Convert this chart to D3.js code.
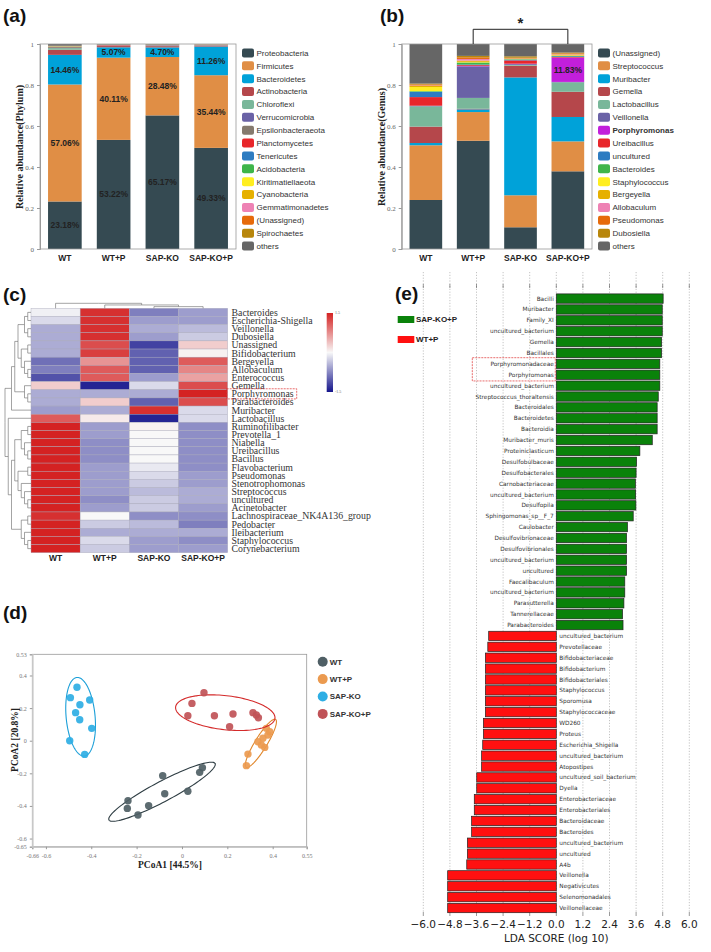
<!DOCTYPE html>
<html>
<head>
<meta charset="utf-8">
<script src="https://cdn.jsdelivr.net/npm/d3@7"></script>
<style>
  body { margin: 0; background: #fff; }
  svg { display: block; }
</style>
</head>
<body>
<svg id="fig" width="711" height="952"></svg>
<script>
// ---------------- data ----------------
var groups = ["WT", "WT+P", "SAP-KO", "SAP-KO+P"];

// (a) phylum composition
var phylumNames = ["Proteobacteria", "Firmicutes", "Bacteroidetes", "Actinobacteria", "Chloroflexi",
  "Verrucomicrobia", "Epsilonbacteraeota", "Planctomycetes", "Tenericutes", "Acidobacteria",
  "Kiritimatiellaeota", "Cyanobacteria", "Gemmatimonadetes", "(Unassigned)", "Spirochaetes", "others"];
var phylumWT   = [0.2318, 0.5706, 0.1446, 0.025, 0.008, 0.001, 0.004, 0.001, 0.001, 0.001, 0.0005, 0.001, 0.0005, 0.001, 0.0005, 0.0085];
var phylumWTP  = [0.5322, 0.4011, 0.0507, 0.006, 0.001, 0.001, 0.001, 0.002, 0.001, 0.001, 0, 0.0005, 0, 0.0005, 0, 0.0019];
var phylumKO   = [0.6517, 0.2848, 0.0470, 0.006, 0.002, 0.001, 0.001, 0.001, 0.001, 0.001, 0, 0.0005, 0, 0.001, 0, 0.0020];
var phylumKOP  = [0.4933, 0.3544, 0.1400, 0.004, 0.001, 0.001, 0.001, 0.001, 0.001, 0.0005, 0, 0.0005, 0, 0.001, 0, 0.0002];
var proteoLabels = ["23.18%", "53.22%", "65.17%", "49.33%"];
var firmLabels   = ["57.06%", "40.11%", "28.48%", "35.44%"];
var bactLabels   = ["14.46%", "5.07%", "4.70%", "11.26%"];

// (b) genus composition
var genusNames = ["(Unassigned)", "Streptococcus", "Muribacter", "Gemella", "Lactobacillus", "Veillonella",
  "Porphyromonas", "Ureibacillus", "uncultured", "Bacteroides", "Staphylococcus", "Bergeyella",
  "Allobaculum", "Pseudomonas", "Dubosiella", "others"];
var genusWT  = [0.239, 0.267, 0.011, 0.080, 0.099, 0.003, 0, 0.042, 0.026, 0.003, 0.020, 0.006, 0.002, 0.005, 0.004, 0.193];
var genusWTP = [0.528, 0.140, 0.013, 0.003, 0.053, 0.154, 0.002, 0.004, 0.003, 0.010, 0.003, 0.006, 0.008, 0.008, 0.007, 0.058];
var genusKO  = [0.106, 0.156, 0.575, 0.057, 0.004, 0.004, 0.002, 0.016, 0.004, 0.002, 0.001, 0.002, 0.001, 0.003, 0.007, 0.060];
var genusKOP = [0.379, 0.146, 0.119, 0.123, 0.046, 0.002, 0.1183, 0.003, 0.004, 0.002, 0.002, 0.004, 0.002, 0.004, 0.004, 0.0417];
var porphyLabels = ["", "", "", "11.83%"];

var paletteA = ["#354a52", "#e08e45", "#00a2d9", "#b5474b", "#79b79a", "#6a62a6", "#857a6e", "#e8262a",
  "#2d7cc1", "#3fb54a", "#ffee20", "#e6b000", "#ee82b4", "#e66a0a", "#b8860b", "#666666"];
var paletteB = ["#354a52", "#e08e45", "#00a2d9", "#b5474b", "#79b79a", "#6a62a6", "#c21fdb", "#e8262a",
  "#2d7cc1", "#3fb54a", "#ffee20", "#e6b000", "#ee82b4", "#e66a0a", "#b8860b", "#666666"];
var stackTicks = [0, 0.2, 0.4, 0.6, 0.8, 1];

// (c) heatmap (row z-scores)
var heatRows = ["Bacteroides", "Escherichia-Shigella", "Veillonella", "Dubosiella", "Unassigned", "Bifidobacterium",
  "Bergeyella", "Allobaculum", "Enterococcus", "Gemella", "Porphyromonas", "Parabacteroides", "Muribacter",
  "Lactobacillus", "Ruminofilibacter", "Prevotella_1", "Niabella", "Ureibacillus", "Bacillus", "Flavobacterium",
  "Pseudomonas", "Stenotrophomonas", "Streptococcus", "uncultured", "Acinetobacter",
  "Lachnospiraceae_NK4A136_group", "Pedobacter", "Ileibacterium", "Staphylococcus", "Corynebacterium"];
var heatWT  = [-0.05, -0.2, -0.5, -0.5, -0.5, -0.5, -0.9, -0.8, -1.1, 0.3, -0.5, -0.5, -0.6, 1.1, 1.5, 1.5, 1.5, 1.5, 1.5, 1.5, 1.5, 1.5, 1.5, 1.5, 1.5, 1.4, 1.5, 1.5, 1.5, 1.5];
var heatWTP = [1.4, 1.4, 1.4, 1.4, 1.2, 1.3, 0.7, 1.1, 1.1, -1.4, -0.5, 0.3, -0.5, 0.1, -0.6, -0.6, -0.7, -0.7, -0.7, -0.6, -0.6, -0.6, -0.6, -0.7, -0.6, 0.0, -0.3, -0.5, -0.2, -0.3];
var heatKO  = [-0.8, -0.6, -0.5, -0.6, -1.2, -1.0, -1.0, -1.0, -0.6, -0.2, -0.5, -1.0, 1.4, -1.4, 0.05, 0.0, 0.0, 0.0, 0.0, -0.1, -0.2, -0.3, -0.4, -0.3, -0.3, -0.7, -0.4, -0.5, -0.6, -0.6];
var heatKOP = [-0.6, -0.6, -0.4, -0.3, 0.3, 0.05, 1.1, 0.8, 0.6, 1.2, 1.5, 1.2, -0.2, -0.2, -0.7, -0.7, -0.7, -0.7, -0.7, -0.7, -0.6, -0.6, -0.5, -0.5, -0.6, -0.7, -0.8, -0.5, -0.7, -0.6];
var rowTree = [
  [
    [
      [[["Bacteroides", "Escherichia-Shigella"], ["Veillonella", "Dubosiella"]],
       [["Unassigned", "Bifidobacterium"], ["Bergeyella", ["Allobaculum", "Enterococcus"]]]],
      ["Gemella", ["Porphyromonas", "Parabacteroides"]]
    ],
    "Muribacter"
  ],
  ["Lactobacillus",
    [[[["Ruminofilibacter", "Prevotella_1"], ["Niabella", ["Ureibacillus", "Bacillus"]]],
      [["Flavobacterium", "Pseudomonas"], ["Stenotrophomonas", ["Streptococcus", ["uncultured", "Acinetobacter"]]]]],
     [["Lachnospiraceae_NK4A136_group", "Pedobacter"], ["Ileibacterium", ["Staphylococcus", "Corynebacterium"]]]]
  ]
];
var colTree = ["WT", ["WT+P", ["SAP-KO", "SAP-KO+P"]]];

// (d) PCoA
var pcoaWT  = [[-0.238, -0.368], [-0.241, -0.415], [-0.194, -0.456], [-0.147, -0.399], [-0.085, -0.215], [-0.076, -0.325], [0.026, -0.31], [0.078, -0.194], [0.09, -0.166]];
var pcoaWTP = [[0.372, 0.076], [0.387, 0.055], [0.379, 0.035], [0.357, 0.015], [0.335, -0.006], [0.35, -0.026], [0.365, -0.041], [0.291, -0.082], [0.284, -0.153]];
var pcoaKO  = [[-0.463, 0.328], [-0.492, 0.264], [-0.407, 0.25], [-0.45, 0.221], [-0.469, 0.172], [-0.451, 0.129], [-0.398, 0.076], [-0.495, 0.0], [-0.429, -0.084]];
var pcoaKOP = [[0.097, 0.294], [0.044, 0.229], [0.026, 0.153], [0.143, 0.153], [0.225, 0.164], [0.313, 0.172], [0.328, 0.158], [0.337, 0.141], [0.21, 0.086]];
// ellipse: centre and two semi-axis vectors, in data units
var ellWT  = { c: [-0.088, -0.313], a: [0.234, 0.173], b: [0.0207, -0.0542] };
var ellWTP = { c: [0.348, -0.016], a: [0.0648, 0.147], b: [0.0226, -0.019] };
var ellKO  = { c: [-0.447, 0.147], a: [-0.0163, 0.241], b: [0.0635, 0.0083] };
var ellKOP = { c: [0.191, 0.172], a: [0.219, -0.035], b: [-0.0086, -0.1037] };
var pcoaXTicks = [-0.66, -0.6, -0.4, -0.2, 0, 0.2, 0.4, 0.55];
var pcoaYTicks = [0.53, 0.4, 0.2, 0, -0.2, -0.4, -0.6, -0.65];

// (e) LEfSe LDA scores
var ldaNames = ["Bacilli", "Muribacter", "Family_XI", "uncultured_bacterium", "Gemella", "Bacillales",
  "Porphyromonadaceae", "Porphyromonas", "uncultured_bacterium", "Streptococcus_thoraltensis", "Bacteroidales",
  "Bacteroidetes", "Bacteroidia", "Muribacter_muris", "Proteiniclasticum", "Desulfobulbaceae", "Desulfobacterales",
  "Carnobacteriaceae", "uncultured_bacterium", "Desulfopila", "Sphingomonas_sp__F_7", "Caulobacter",
  "Desulfovibrionaceae", "Desulfovibrionales", "uncultured_bacterium", "uncultured", "Faecalibaculum",
  "uncultured_bacterium", "Parasutterella", "Tannerellaceae", "Parabacteroides",
  "uncultured_bacterium", "Prevotellaceae", "Bifidobacteriaceae", "Bifidobacterium", "Bifidobacteriales",
  "Staphylococcus", "Sporomusa", "Staphylococcaceae", "WD260", "Proteus", "Escherichia_Shigella",
  "uncultured_bacterium", "Atopostipes", "uncultured_soil_bacterium", "Dyella", "Enterobacteriaceae",
  "Enterobacteriales", "Bacteroidaceae", "Bacteroides", "uncultured_bacterium", "uncultured", "A4b",
  "Veillonella", "Negativicutes", "Selenomonadales", "Veillonellaceae"];
var ldaScores = [4.82, 4.78, 4.78, 4.78, 4.75, 4.75, 4.67, 4.67, 4.67, 4.6, 4.55, 4.55, 4.55, 4.33, 3.77,
  3.62, 3.6, 3.57, 3.58, 3.59, 3.47, 3.21, 3.17, 3.17, 3.17, 3.17, 3.09, 3.09, 3.05, 2.99, 3.01,
  -3.05, -3.09, -3.2, -3.2, -3.2, -3.2, -3.2, -3.2, -3.29, -3.29, -3.32, -3.37, -3.37, -3.59, -3.59,
  -3.7, -3.7, -3.82, -3.82, -4.01, -4.01, -4.04, -4.9, -4.9, -4.9, -4.9];
var ldaTicks = [-6, -4.8, -3.6, -2.4, -1.2, 0, 1.2, 2.4, 3.6, 4.8, 6];
var ldaHighlight = [6, 7];

// ---------------- drawing ----------------
var SANS = "'Liberation Sans', Arial, sans-serif";
var SERIF = "'Liberation Serif', 'Times New Roman', serif";
var DJ = "'DejaVu Sans', sans-serif";

var svg = d3.select("#fig");
svg.append("rect").attr("width", 711).attr("height", 952).attr("fill", "#fff");

function panelLabel(x, y, t) {
  svg.append("text").attr("x", x).attr("y", y).text(t)
    .style("font-family", SANS).style("font-weight", "bold").style("font-size", "19px").attr("fill", "#111");
}

// stacked bar panels (a) and (b)
function stackPanel(opt) {
  var g = svg.append("g");
  var x = d3.scaleBand().domain(groups).range([opt.x0, opt.x1]).paddingInner(0.31).paddingOuter(0.165);
  var y = d3.scaleLinear().domain([0, 1]).range([249, 44]);
  var rows = groups.map(function (grp, i) {
    var o = { group: grp };
    opt.names.forEach(function (n, j) { o[n] = opt.values[i][j]; });
    return o;
  });
  var series = d3.stack().keys(opt.names)(rows);

  g.selectAll("g.layer").data(series).enter().append("g")
    .attr("fill", function (d, i) { return opt.colors[i]; })
    .selectAll("rect").data(function (d) { return d; }).enter().append("rect")
    .attr("x", function (d) { return x(d.data.group); })
    .attr("width", x.bandwidth())
    .attr("y", function (d) { return y(d[1]); })
    .attr("height", function (d) { return Math.max(0, y(d[0]) - y(d[1])); });

  // frame
  g.append("rect").attr("x", opt.x0).attr("y", 44).attr("width", opt.x1 - opt.x0).attr("height", 205)
    .attr("fill", "none").attr("stroke", "#9a9a9a").attr("stroke-width", 0.8);

  var ax = g.append("g").attr("transform", "translate(" + opt.x0 + ",0)")
    .call(d3.axisLeft(y).tickValues(stackTicks).tickFormat(function (d) { return String(d); }).tickSize(3));
  ax.select(".domain").attr("stroke", "#9a9a9a");
  ax.selectAll(".tick line").attr("stroke", "#9a9a9a");
  ax.selectAll("text").style("font-family", SERIF).style("font-size", "7px").attr("fill", "#666");

  g.selectAll("text.grp").data(groups).enter().append("text")
    .attr("x", function (d) { return x(d) + x.bandwidth() / 2; }).attr("y", 261)
    .attr("text-anchor", "middle").text(function (d) { return d; })
    .style("font-family", SANS).style("font-weight", "bold").style("font-size", "8.5px").attr("fill", "#222");

  g.append("text").attr("transform", "translate(" + (opt.x0 - 17) + ",147) rotate(-90)")
    .attr("text-anchor", "middle").text(opt.yLabel)
    .style("font-family", SERIF).style("font-weight", "bold").style("font-size", "10px").attr("fill", "#222");

  // segment labels
  opt.labels.forEach(function (lab) {
    var s = series[lab.layer];
    s.forEach(function (d, i) {
      if (!lab.text[i]) return;
      g.append("text").attr("x", x(d.data.group) + x.bandwidth() / 2).attr("y", y((d[0] + d[1]) / 2))
        .attr("dy", "0.35em").attr("text-anchor", "middle").text(lab.text[i])
        .style("font-family", SANS).style("font-weight", "bold").style("font-size", "8.5px").attr("fill", "#222");
    });
  });

  // legend
  var lg = g.selectAll("g.leg").data(opt.names).enter().append("g")
    .attr("transform", function (d, i) { return "translate(" + opt.legendX + "," + (53 + i * 12.87) + ")"; });
  lg.append("rect").attr("x", 0).attr("y", -4.5).attr("width", 12).attr("height", 9).attr("rx", 2)
    .attr("fill", function (d, i) { return opt.colors[i]; });
  lg.append("text").attr("x", 14.5).attr("dy", "0.35em").text(function (d) { return d; })
    .style("font-family", SANS).style("font-size", "8px")
    .style("font-weight", function (d) { return d === opt.boldName ? "bold" : "normal"; })
    .attr("fill", "#333");
  return x;
}

panelLabel(3, 22, "(a)");
stackPanel({
  x0: 40, x1: 236, names: phylumNames, colors: paletteA,
  values: [phylumWT, phylumWTP, phylumKO, phylumKOP],
  yLabel: "Relative abundance(Phylum)", legendX: 242,
  labels: [{ layer: 0, text: proteoLabels }, { layer: 1, text: firmLabels }, { layer: 2, text: bactLabels }]
});

panelLabel(380, 22, "(b)");
var xB = stackPanel({
  x0: 401.7, x1: 592, names: genusNames, colors: paletteB,
  values: [genusWT, genusWTP, genusKO, genusKOP],
  yLabel: "Relative abundance(Genus)", legendX: 598, boldName: "Porphyromonas",
  labels: [{ layer: 6, text: porphyLabels }]
});
// significance bracket
(function () {
  var xa = xB("WT+P") + xB.bandwidth() / 2, xb = xB("SAP-KO+P") + xB.bandwidth() / 2;
  svg.append("path").attr("d", "M" + xa + ",44V29.3H" + xb + "V44")
    .attr("fill", "none").attr("stroke", "#222").attr("stroke-width", 1);
  svg.append("text").attr("x", (xa + xb) / 2).attr("y", 28).attr("text-anchor", "middle").text("*")
    .style("font-family", SANS).style("font-weight", "bold").style("font-size", "15px").attr("fill", "#222");
})();

// (c) heatmap
panelLabel(3, 301, "(c)");
(function () {
  var g = svg.append("g");
  var cx = d3.scaleBand().domain(groups).range([31, 227.7]);
  var ry = d3.scaleBand().domain(heatRows).range([308.3, 552.7]);
  var color = d3.scaleLinear().domain([-1.5, 0, 1.5]).range(["#15158c", "#f8f8f8", "#d42222"]).clamp(true);
  var cols = [heatWT, heatWTP, heatKO, heatKOP];
  var cells = [];
  cols.forEach(function (vals, j) {
    vals.forEach(function (v, i) { cells.push({ col: groups[j], row: heatRows[i], v: v }); });
  });
  g.selectAll("rect.cell").data(cells).enter().append("rect")
    .attr("x", function (d) { return cx(d.col); }).attr("y", function (d) { return ry(d.row); })
    .attr("width", cx.bandwidth()).attr("height", ry.bandwidth())
    .attr("fill", function (d) { return color(d.v); })
    .attr("stroke", "#a8a8b8").attr("stroke-width", 0.4);

  g.selectAll("text.row").data(heatRows).enter().append("text")
    .attr("x", 231.5).attr("y", function (d) { return ry(d) + ry.bandwidth() / 2; }).attr("dy", "0.35em")
    .text(function (d) { return d; })
    .style("font-family", SERIF).style("font-size", "9.8px").attr("fill", "#333");

  g.selectAll("text.col").data(groups).enter().append("text")
    .attr("x", function (d) { return cx(d) + cx.bandwidth() / 2; }).attr("y", 561)
    .attr("text-anchor", "middle").text(function (d) { return d; })
    .style("font-family", SANS).style("font-weight", "bold").style("font-size", "8.5px").attr("fill", "#222");

  // highlight box
  g.append("rect").attr("x", 226.7).attr("y", ry("Porphyromonas") - 1).attr("width", 70)
    .attr("height", ry.bandwidth() + 2).attr("fill", "none")
    .attr("stroke", "#e03030").attr("stroke-width", 0.7).attr("stroke-dasharray", "2,1");

  // row dendrogram
  var root = d3.hierarchy(rowTree, function (d) { return Array.isArray(d) ? d : null; });
  var stepX = (31 - 5) / root.height;
  root.eachAfter(function (n) {
    n.py = n.children ? d3.mean(n.children, function (c) { return c.py; }) : ry(n.data) + ry.bandwidth() / 2;
    n.px = 31 - n.height * stepX;
  });
  root.descendants().filter(function (n) { return n.children; }).forEach(function (n) {
    n.children.forEach(function (c) {
      g.append("path").attr("d", "M" + n.px + "," + n.py + "V" + c.py + "H" + c.px)
        .attr("fill", "none").attr("stroke", "#666").attr("stroke-width", 0.6);
    });
  });

  // column dendrogram
  var croot = d3.hierarchy(colTree, function (d) { return Array.isArray(d) ? d : null; });
  var stepY = 5 / croot.height;
  croot.eachAfter(function (n) {
    n.px = n.children ? d3.mean(n.children, function (c) { return c.px; }) : cx(n.data) + cx.bandwidth() / 2;
    n.py = 308.3 - n.height * stepY;
  });
  croot.descendants().filter(function (n) { return n.children; }).forEach(function (n) {
    n.children.forEach(function (c) {
      g.append("path").attr("d", "M" + n.px + "," + n.py + "H" + c.px + "V" + c.py)
        .attr("fill", "none").attr("stroke", "#666").attr("stroke-width", 0.6);
    });
  });

  // colour bar
  var defs = svg.append("defs");
  var grad = defs.append("linearGradient").attr("id", "hgrad").attr("x1", 0).attr("y1", 1).attr("x2", 0).attr("y2", 0);
  [-1.5, -0.75, 0, 0.75, 1.5].forEach(function (v) {
    grad.append("stop").attr("offset", (v + 1.5) / 3).attr("stop-color", color(v));
  });
  var cb = d3.scaleLinear().domain([-1.5, 1.5]).range([392, 313]);
  g.append("rect").attr("x", 326.7).attr("y", cb(1.5)).attr("width", 6.3).attr("height", cb(-1.5) - cb(1.5))
    .attr("fill", "url(#hgrad)");
  [1.5, -1.5].forEach(function (v) {
    g.append("text").attr("x", 335).attr("y", cb(v)).attr("dy", "0.35em").text(String(v))
      .style("font-family", SERIF).style("font-size", "4px").attr("fill", "#666");
  });
})();

// (d) PCoA
panelLabel(3, 619, "(d)");
(function () {
  var g = svg.append("g");
  var x = d3.scaleLinear().domain([-0.66, 0.55]).range([32.3, 306.7]);
  var y = d3.scaleLinear().domain([-0.65, 0.53]).range([846.7, 654.3]);
  var sets = [
    { name: "WT", pts: pcoaWT, ell: ellWT, fill: "#4f5f65", stroke: "#2e3d43" },
    { name: "WT+P", pts: pcoaWTP, ell: ellWTP, fill: "#eb9a4f", stroke: "#e0862a" },
    { name: "SAP-KO", pts: pcoaKO, ell: ellKO, fill: "#2eaee4", stroke: "#1b9fd8" },
    { name: "SAP-KO+P", pts: pcoaKOP, ell: ellKOP, fill: "#c05257", stroke: "#d42a2a" }
  ];
  g.append("rect").attr("x", 32.3).attr("y", 654.3).attr("width", 274.4).attr("height", 192.4)
    .attr("fill", "none").attr("stroke", "#999").attr("stroke-width", 0.8);

  var ax = g.append("g").attr("transform", "translate(0,846.7)")
    .call(d3.axisBottom(x).tickValues(pcoaXTicks).tickFormat(function (d) { return String(d); }).tickSize(2.5));
  var ay = g.append("g").attr("transform", "translate(32.3,0)")
    .call(d3.axisLeft(y).tickValues(pcoaYTicks).tickFormat(function (d) { return String(d); }).tickSize(2.5));
  [ax, ay].forEach(function (a) {
    a.select(".domain").attr("stroke", "#c8c8c8").attr("stroke-width", 1.6);
    a.selectAll(".tick line").attr("stroke", "#999");
    a.selectAll("text").style("font-family", SERIF).style("font-size", "6px").attr("fill", "#777");
  });
  ax.selectAll("text").attr("dy", "0.9em");

  var angles = d3.range(0, 2 * Math.PI + 0.05, 0.05);
  var line = d3.line().curve(d3.curveLinearClosed);
  sets.forEach(function (s) {
    var e = s.ell;
    var pts = angles.map(function (t) {
      return [x(e.c[0] + Math.cos(t) * e.a[0] + Math.sin(t) * e.b[0]),
              y(e.c[1] + Math.cos(t) * e.a[1] + Math.sin(t) * e.b[1])];
    });
    g.append("path").attr("d", line(pts)).attr("fill", "none").attr("stroke", s.stroke).attr("stroke-width", 1.1);
    g.selectAll(null).data(s.pts).enter().append("circle")
      .attr("cx", function (d) { return x(d[0]); }).attr("cy", function (d) { return y(d[1]); })
      .attr("r", 3.7).attr("fill", s.fill).attr("fill-opacity", 0.92);
  });

  g.append("text").attr("x", 170).attr("y", 868).attr("text-anchor", "middle").text("PCoA1 [44.5%]")
    .style("font-family", SERIF).style("font-weight", "bold").style("font-size", "9.5px").attr("fill", "#222");
  g.append("text").attr("transform", "translate(18,740) rotate(-90)").attr("text-anchor", "middle")
    .text("PCoA2 [20.8%]")
    .style("font-family", SERIF).style("font-weight", "bold").style("font-size", "9.5px").attr("fill", "#222");

  var lg = g.selectAll("g.leg").data(sets).enter().append("g")
    .attr("transform", function (d, i) { return "translate(322.7," + (661.7 + i * 17.4) + ")"; });
  lg.append("circle").attr("r", 5).attr("fill", function (d) { return d.fill; });
  lg.append("text").attr("x", 7).attr("dy", "0.35em").text(function (d) { return d.name; })
    .style("font-family", SANS).style("font-weight", "bold").style("font-size", "8px").attr("fill", "#333");
})();

// (e) LEfSe
panelLabel(395, 300, "(e)");
(function () {
  var g = svg.append("g");
  var x = d3.scaleLinear().domain([-6, 6]).range([423.3, 689.3]);
  var idx = d3.range(ldaNames.length);
  var y = d3.scaleBand().domain(idx).range([293.9, 912.7]).paddingInner(0.14);

  // grid
  g.selectAll("line.grid").data(ldaTicks).enter().append("line")
    .attr("x1", function (d) { return x(d); }).attr("x2", function (d) { return x(d); })
    .attr("y1", 272).attr("y2", 913)
    .attr("stroke", "#9a9a9a").attr("stroke-width", 0.6).attr("stroke-dasharray", "1.2,1.6");
  g.selectAll("line.tt").data(ldaTicks).enter().append("line")
    .attr("x1", function (d) { return x(d); }).attr("x2", function (d) { return x(d); })
    .attr("y1", 284).attr("y2", 288).attr("stroke", "#555").attr("stroke-width", 0.6);
  g.selectAll("line.bt").data(ldaTicks).enter().append("line")
    .attr("x1", function (d) { return x(d); }).attr("x2", function (d) { return x(d); })
    .attr("y1", 912).attr("y2", 916).attr("stroke", "#555").attr("stroke-width", 0.6);

  g.selectAll("rect.bar").data(idx).enter().append("rect")
    .attr("x", function (i) { return x(Math.min(0, ldaScores[i])); })
    .attr("width", function (i) { return Math.abs(x(ldaScores[i]) - x(0)); })
    .attr("y", function (i) { return y(i); }).attr("height", y.bandwidth())
    .attr("fill", function (i) { return ldaScores[i] > 0 ? "#0a820a" : "#ff1010"; })
    .attr("stroke", "#222").attr("stroke-width", 0.7);

  g.selectAll("text.lab").data(idx).enter().append("text")
    .attr("x", function (i) { return ldaScores[i] > 0 ? x(0) - 2.5 : x(0) + 3; })
    .attr("y", function (i) { return y(i) + y.bandwidth() / 2; }).attr("dy", "0.35em")
    .attr("text-anchor", function (i) { return ldaScores[i] > 0 ? "end" : "start"; })
    .text(function (i) { return ldaNames[i]; })
    .style("font-family", DJ).style("font-size", "5.8px").attr("fill", "#333");

  // highlight box
  var hy0 = y(ldaHighlight[0]) - 1.5, hy1 = y(ldaHighlight[1]) + y.bandwidth() + 1.5;
  g.append("rect").attr("x", 472.3).attr("y", hy0).attr("width", x(0) - 1 - 472.3).attr("height", hy1 - hy0)
    .attr("fill", "none").attr("stroke", "#e03030").attr("stroke-width", 0.7).attr("stroke-dasharray", "2,1");

  var fmt = d3.format(".1f");
  g.selectAll("text.tick").data(ldaTicks).enter().append("text")
    .attr("x", function (d) { return x(d); }).attr("y", 928).attr("text-anchor", "middle")
    .text(function (d) { return fmt(d); })
    .style("font-family", DJ).style("font-size", "10.5px").attr("fill", "#222");
  g.append("text").attr("x", x(0)).attr("y", 941.5).attr("text-anchor", "middle").text("LDA SCORE (log 10)")
    .style("font-family", DJ).style("font-size", "10.5px").attr("fill", "#222");

  // legend
  var leg = [{ name: "SAP-KO+P", c: "#0a820a", y: 316 }, { name: "WT+P", c: "#ff1010", y: 336 }];
  leg.forEach(function (l) {
    g.append("rect").attr("x", 397.7).attr("y", l.y).attr("width", 16.6).attr("height", 7).attr("fill", l.c);
    g.append("text").attr("x", 416).attr("y", l.y + 3.5).attr("dy", "0.35em").text(l.name)
      .style("font-family", SANS).style("font-weight", "bold").style("font-size", "8px").attr("fill", "#222");
  });
})();
</script>
</body>
</html>
